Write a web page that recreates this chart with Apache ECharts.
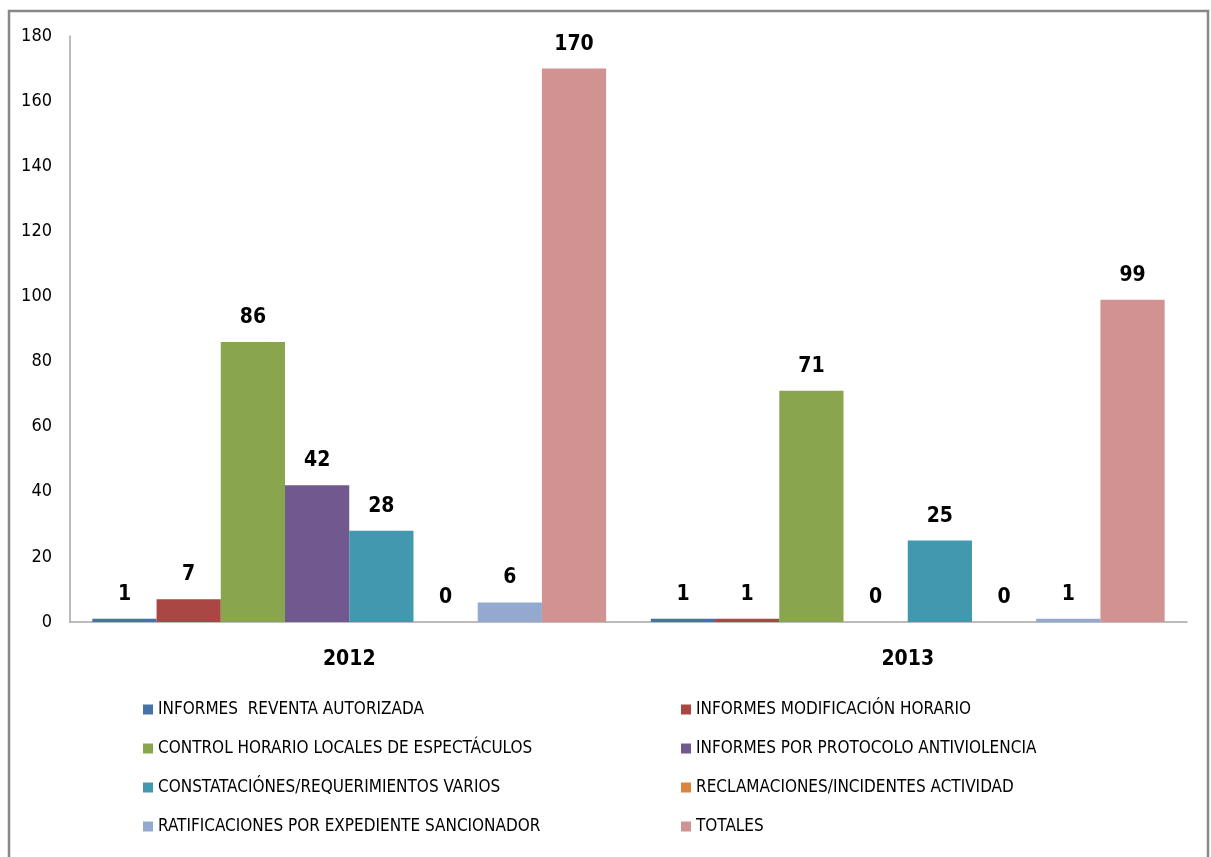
<!DOCTYPE html>
<html>
<head>
<meta charset="utf-8">
<script src="https://cdn.jsdelivr.net/npm/echarts@6/dist/echarts.min.js"></script>
<style>
  html, body { margin: 0; padding: 0; background: #fff; }
  #chart { width: 1211px; height: 857px; }
</style>
</head>
<body>
<div id="chart"></div>
<script>
const years = ["2012", "2013"];
const seriesNames = [
  "INFORMES  REVENTA AUTORIZADA",
  "INFORMES MODIFICACIÓN HORARIO",
  "CONTROL HORARIO LOCALES DE ESPECTÁCULOS",
  "INFORMES POR PROTOCOLO ANTIVIOLENCIA",
  "CONSTATACIÓNES/REQUERIMIENTOS VARIOS",
  "RECLAMACIONES/INCIDENTES ACTIVIDAD",
  "RATIFICACIONES POR EXPEDIENTE SANCIONADOR",
  "TOTALES"
];
const reventa = [1, 1];
const modificacion = [7, 1];
const controlHorario = [86, 71];
const antiviolencia = [42, 0];
const constataciones = [28, 25];
const reclamaciones = [0, 0];
const ratificaciones = [6, 1];
const totales = [170, 99];
const colors = ["#4572A7", "#AA4643", "#89A54E", "#71588F", "#4198AF", "#DB843D", "#93A9CF", "#D19392"];

const values = [reventa, modificacion, controlHorario, antiviolencia, constataciones, reclamaciones, ratificaciones, totales];
const font = "'Liberation Sans Narrow', 'DejaVu Sans Condensed', 'Arial Narrow', sans-serif";

const chart = echarts.init(document.getElementById("chart"));

const series = values.map((v, i) => ({
  name: seriesNames[i],
  type: "bar",
  data: v,
  barGap: "0%",
  barCategoryGap: "8%",
  itemStyle: { color: colors[i] },
  label: {
    show: true,
    position: "top",
    distance: 14,
    color: "#000",
    fontWeight: "bold",
    fontSize: 21,
    fontFamily: font
  }
}));

const legendBase = {
  orient: "vertical",
  icon: "rect",
  itemWidth: 10,
  itemHeight: 10,
  itemGap: 22,
  textStyle: { fontSize: 17, color: "#000", fontFamily: font }
};

chart.setOption({
  color: colors,
  animation: false,
  graphic: [{
    type: "rect",
    shape: { x: 9, y: 11, width: 1199, height: 860 },
    style: { fill: "none", stroke: "#888", lineWidth: 2.5 },
    silent: true
  }],
  grid: { left: 70, right: 24, top: 36, bottom: 235, containLabel: false },
  legend: [
    Object.assign({}, legendBase, {
      left: 138, top: 696,
      data: [seriesNames[0], seriesNames[2], seriesNames[4], seriesNames[6]]
    }),
    Object.assign({}, legendBase, {
      left: 676, top: 696,
      data: [seriesNames[1], seriesNames[3], seriesNames[5], seriesNames[7]]
    })
  ],
  xAxis: {
    type: "category",
    data: years,
    axisLine: { lineStyle: { color: "#a6a6a6", width: 1.5 } },
    axisTick: { show: false },
    axisLabel: {
      color: "#000",
      fontWeight: "bold",
      fontSize: 21,
      fontFamily: font,
      margin: 27
    }
  },
  yAxis: {
    type: "value",
    min: 0,
    max: 180,
    interval: 20,
    axisLine: { show: true, lineStyle: { color: "#a6a6a6", width: 1.5 } },
    axisTick: { show: false },
    splitLine: { show: false },
    axisLabel: { color: "#000", fontSize: 18, fontFamily: font, margin: 18 }
  },
  series: series
});
</script>
</body>
</html>
